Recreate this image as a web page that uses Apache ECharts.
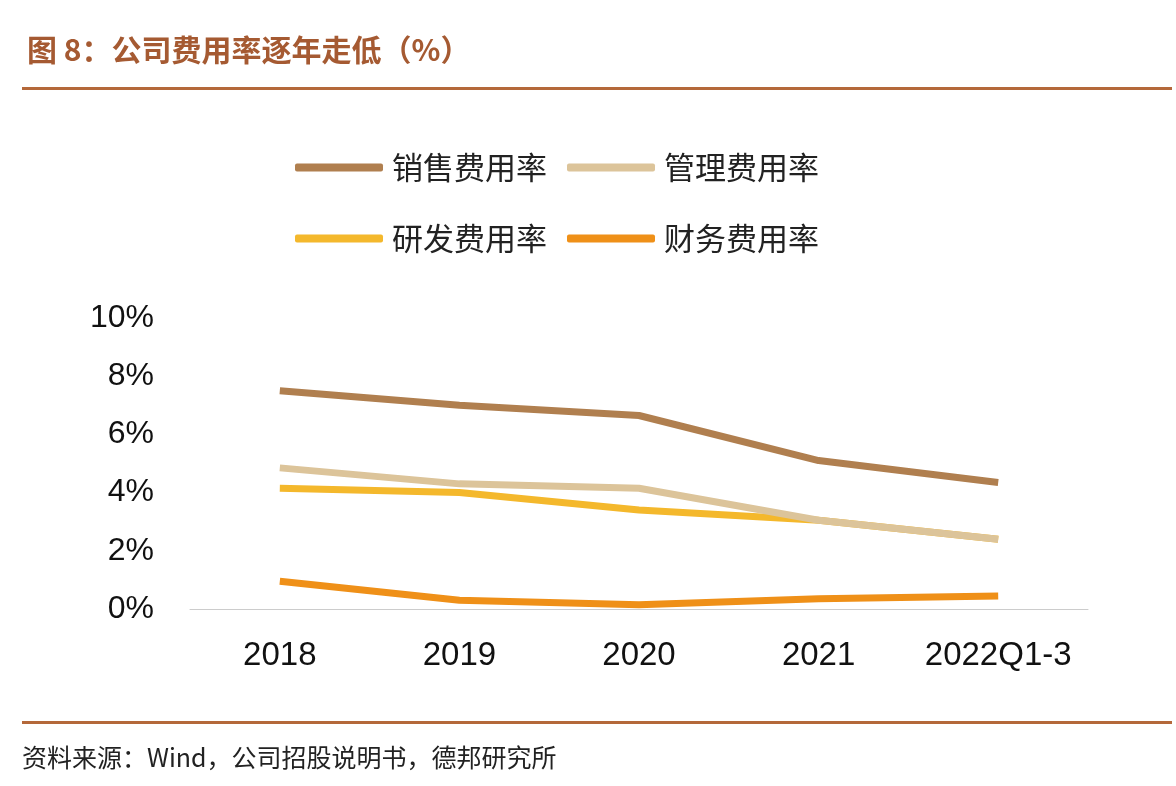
<!DOCTYPE html><html><head><meta charset="utf-8"><script src="https://cdn.jsdelivr.net/npm/echarts@6/dist/echarts.min.js"></script>
<style>body{margin:0;background:#fff}#c{width:1176px;height:786px}</style></head><body><div id="c"></div><script>
const categories=['2018','2019','2020','2021','2022Q1-3'];
const sales=[7.5,7.0,6.65,5.1,4.35];
const admin=[4.85,4.3,4.15,3.05,2.4];
const rnd=[4.15,4.0,3.4,3.05,2.4];
const fin=[0.95,0.3,0.15,0.35,0.45];
const yTicks=[0,2,4,6,8,10];
const names=['销售费用率','管理费用率','研发费用率','财务费用率'];
const colors=['#b07f4f','#dcc49a','#f4b82c','#ef9018'];
const ch=echarts.init(document.getElementById('c'));
const ser=[sales,admin,rnd,fin].map((d,i)=>({name:names[i],type:'line',data:d,symbol:'none',z:10-i,lineStyle:{width:7,color:colors[i]},itemStyle:{color:colors[i]}}));
const lg={itemWidth:88,itemHeight:8,itemGap:20,icon:'roundRect',textStyle:{fontSize:31,color:'#222',fontFamily:'Noto Sans CJK SC',padding:[0,0,0,4]}};
ch.setOption({
 animation:false,
 title:{text:'图 8：公司费用率逐年走低（%）',left:22,top:30,textStyle:{fontSize:30,fontWeight:'bold',color:'#a55a32',fontFamily:'Noto Sans CJK SC'}},
 graphic:[
  {type:'rect',shape:{x:22,y:87,width:1150,height:3},style:{fill:'#b4683a'}},
  {type:'rect',shape:{x:22,y:721,width:1150,height:3},style:{fill:'#b4683a'}},
  {type:'text',left:22,top:745,style:{text:'资料来源：Wind，公司招股说明书，德邦研究所',fontSize:25,fill:'#222',fontFamily:'Noto Sans CJK SC'}}
 ],
 legend:[Object.assign({data:names.slice(0,2),left:290,top:147},lg),Object.assign({data:names.slice(2),left:290,top:218},lg)],
 grid:{left:190,right:88,top:318,bottom:177},
 xAxis:{type:'category',data:categories,axisTick:{show:false},axisLine:{lineStyle:{color:'#ccc',width:1}},axisLabel:{interval:0,fontSize:33,color:'#111',margin:30,fontFamily:'Liberation Sans'}},
 yAxis:{type:'value',min:0,max:10,interval:2,splitLine:{show:false},axisLabel:{fontSize:32,color:'#111',margin:36,fontFamily:'Liberation Sans',formatter:v=>yTicks.includes(v)?v+'%':''}},
 series:ser
});
</script></body></html>
